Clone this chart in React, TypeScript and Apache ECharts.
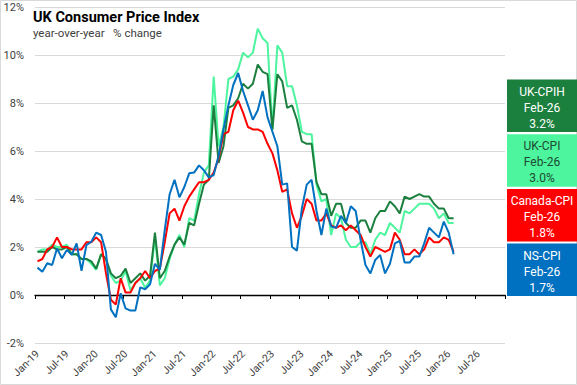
import React, { useEffect, useRef } from "react";
import * as echarts from "echarts";

const monthNames = ["Jan", "Feb", "Mar", "Apr", "May", "Jun", "Jul", "Aug", "Sep", "Oct", "Nov", "Dec"];
const years = ["19", "20", "21", "22", "23", "24", "25", "26"];
const months: string[] = [];
years.forEach((y) => monthNames.forEach((m) => months.push(`${m}-${y}`)));

const ukCpih = [
  1.8, 1.8, 1.8, 2.0, 1.9, 1.9, 2.0, 1.7, 1.7, 1.5, 1.5, 1.4,
  1.1, 1.7, 1.5, 0.9, 0.7, 0.8, 1.1, 0.5, 0.7, 0.9, 0.6, 0.8,
  2.6, 0.7, 1.0, 1.6, 2.1, 2.4, 2.1, 3.0, 2.9, 3.8, 4.6, 4.8,
  7.9, 5.5, 6.2, 7.8, 7.9, 8.2, 8.8, 8.6, 8.8, 9.6, 9.3, 9.2,
  6.9, 9.2, 8.9, 7.8, 7.9, 7.3, 6.4, 6.3, 6.3, 4.7, 4.2, 4.2,
  3.3, 3.8, 3.8, 3.0, 2.8, 2.8, 3.1, 3.1, 2.6, 3.2, 3.5, 3.5,
  3.9, 3.7, 3.4, 4.1, 4.0, 4.1, 4.2, 4.1, 4.1, 3.8, 3.6, 3.6,
  3.2, 3.2,
];

const ukCpi = [
  1.8, 1.9, 1.9, 2.1, 2.0, 2.0, 2.1, 1.7, 1.7, 1.5, 1.5, 1.3,
  1.05, 1.7, 1.5, 0.8, 0.5, 0.6, 1.0, 0.2, 0.5, 0.7, 0.3, 0.6,
  2.4, 0.4, 0.7, 1.5, 2.1, 2.5, 2.0, 3.2, 3.1, 4.2, 5.1, 5.4,
  9.1, 6.2, 7.0, 9.0, 9.1, 9.4, 10.1, 9.9, 10.1, 11.1, 10.7, 10.5,
  6.9, 10.4, 10.1, 8.7, 8.7, 7.9, 6.8, 6.7, 6.7, 4.6, 3.9, 4.0,
  2.5, 3.4, 3.2, 2.3, 2.0, 2.0, 2.2, 2.2, 1.7, 2.3, 2.6, 2.5,
  3.0, 2.8, 2.6, 3.5, 3.4, 3.6, 3.8, 3.8, 3.8, 3.6, 3.2, 3.4,
  3.0, 3.0,
];

const canadaCpi = [
  1.4, 1.5, 1.9, 2.0, 2.4, 2.0, 2.0, 1.9, 1.9, 1.9, 2.2, 2.2,
  2.4, 2.2, 0.9, -0.2, -0.4, 0.7, 0.1, 0.1, 0.5, 0.7, 1.0, 0.7,
  1.0, 1.1, 2.2, 3.4, 3.6, 3.1, 3.7, 4.1, 4.4, 4.7, 4.7, 4.8,
  5.1, 5.7, 6.7, 6.8, 7.7, 8.1, 7.6, 7.0, 6.9, 6.9, 6.8, 6.3,
  5.9, 5.2, 4.3, 4.4, 3.4, 2.8, 3.3, 4.0, 3.8, 3.1, 3.1, 3.4,
  2.9, 2.8, 2.9, 2.7, 2.9, 2.7, 2.5, 2.0, 1.6, 2.0, 1.9, 1.8,
  1.9, 2.6, 2.3, 1.7, 1.7, 1.9, 1.7, 1.9, 2.4, 2.2, 2.2, 2.4,
  2.3, 1.8,
];

const nsCpi = [
  1.14, 0.97, 1.32, 1.25, 1.94, 1.53, 1.88, 1.67, 2.15, 1.01, 2.08, 2.22,
  2.6, 2.5, 1.8, -0.6, -0.93, 0.07, -0.56, -0.65, -0.65, 0.32, 0.24, 0.45,
  1.3, 1.05, 2.7, 4.2, 4.8, 4.07, 4.5, 5.07, 5.1, 5.4, 5.2, 4.9,
  5.0, 5.8, 6.9, 7.9, 8.75, 9.25, 8.5, 7.9, 7.3, 7.7, 8.5, 7.4,
  6.8, 6.2, 4.6, 4.65, 2.0, 1.85, 3.6, 4.6, 4.8, 3.5, 2.5, 3.6,
  2.85, 2.8, 3.3, 3.0, 3.7, 3.5, 2.3, 1.25, 0.9, 1.46, 1.67, 0.9,
  1.3, 2.15, 2.26, 1.35, 1.35, 1.6, 1.6, 2.15, 2.8, 2.6, 2.4, 3.06,
  2.6, 1.7,
];

const boxNames = ["UK-CPIH", "UK-CPI", "Canada-CPI", "NS-CPI"];
const boxDates = ["Feb-26", "Feb-26", "Feb-26", "Feb-26"];
const boxValues = ["3.2%", "3.0%", "1.8%", "1.7%"];

const FONT = "Roboto, 'Noto Sans', sans-serif";
const C_CPIH = "#1B7F3E";
const C_CPI = "#4CF59E";
const C_CAN = "#FF0000";
const C_NS = "#0070C0";

export default function App() {
  const ref = useRef<HTMLDivElement>(null);
  useEffect(() => {
    if (!ref.current) return;
    const chart = echarts.init(ref.current, undefined, { renderer: "svg" });
    const boxFill = [C_CPIH, C_CPI, C_CAN, C_NS];
    const boxText = ["#ffffff", "#1E4A32", "#ffffff", "#ffffff"];
    const graphics: any[] = [
      {
        type: "rect",
        shape: { x: 0.5, y: 0.5, width: 576, height: 384 },
        style: { fill: "none", stroke: "#d9d9d9", lineWidth: 1 },
        silent: true,
      },
      {
        type: "text",
        x: 33,
        y: 17,
        style: {
          text: "UK Consumer Price Index",
          font: `bold 14.5px ${FONT}`,
          fill: "#000",
          textVerticalAlign: "middle",
        },
      },
      {
        type: "text",
        x: 33,
        y: 33,
        style: {
          text: "year-over-year   % change",
          font: `11.5px ${FONT}`,
          fill: "#404040",
          textVerticalAlign: "middle",
        },
      },
    ];
    const tops = [79.5, 134.2, 188.9, 243.6];
    boxNames.forEach((name, k) => {
      graphics.push({
        type: "rect",
        shape: { x: 507, y: tops[k], width: 70, height: 52.5 },
        style: { fill: boxFill[k] },
      });
      [name, boxDates[k], boxValues[k]].forEach((t, j) => {
        graphics.push({
          type: "text",
          x: 542,
          y: tops[k] + 12 + j * 16,
          style: {
            text: t,
            font: `12px ${FONT}`,
            fill: boxText[k],
            textAlign: "center",
            textVerticalAlign: "middle",
          },
        });
      });
    });

    const lineSeries = (name: string, data: number[], color: string) => ({
      name,
      type: "line",
      data,
      xAxisIndex: 0,
      yAxisIndex: 0,
      symbol: "none",
      lineStyle: { color, width: 2 },
      itemStyle: { color },
    });

    chart.setOption({
      animation: false,
      textStyle: { fontFamily: FONT },
      grid: { left: 35, right: 72, top: 7, bottom: 42, containLabel: false },
      xAxis: [
        {
          type: "category",
          data: months,
          boundaryGap: true,
          position: "bottom",
          axisLine: { show: false, onZero: false },
          axisTick: { show: false },
          splitLine: { show: false },
          axisLabel: {
            interval: 5,
            rotate: 45,
            fontSize: 10.5,
            color: "#404040",
            margin: 9,
            fontFamily: FONT,
          },
        },
        {
          type: "category",
          data: months,
          boundaryGap: true,
          position: "bottom",
          axisLine: { show: true, onZero: true, lineStyle: { color: "#000", width: 1.3 } },
          axisTick: { show: true, interval: 5, inside: false, length: 4, lineStyle: { color: "#000", width: 1 } },
          axisLabel: { show: false },
          splitLine: { show: false },
        },
      ],
      yAxis: {
        type: "value",
        min: -2,
        max: 12,
        interval: 2,
        axisLine: { show: false },
        axisTick: { show: false },
        axisLabel: { formatter: "{value}%", fontSize: 11, color: "#404040", margin: 11, fontFamily: FONT },
        splitLine: { lineStyle: { color: "#d9d9d9", width: 1 } },
      },
      series: [
        lineSeries("UK-CPI", ukCpi, C_CPI),
        lineSeries("UK-CPIH", ukCpih, C_CPIH),
        lineSeries("Canada-CPI", canadaCpi, C_CAN),
        lineSeries("NS-CPI", nsCpi, C_NS),
      ],
      graphic: graphics,
    });
    return () => chart.dispose();
  }, []);
  return (
    <div
      ref={ref}
      style={{ position: "absolute", left: 0, top: 0, width: 577, height: 385, background: "#fff" }}
    />
  );
}
